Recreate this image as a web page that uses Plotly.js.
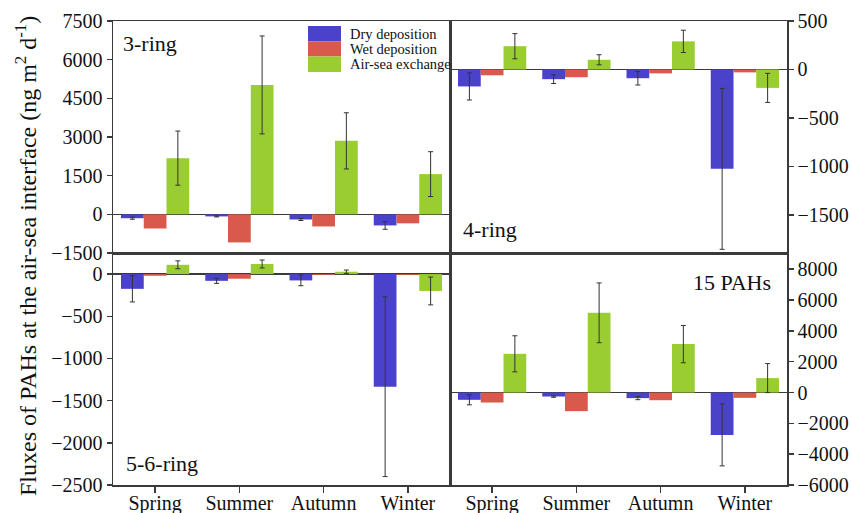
<!DOCTYPE html>
<html>
<head>
<meta charset="utf-8">
<script src="https://cdn.plot.ly/plotly-3.0.1.min.js"></script>
<style>html,body{margin:0;padding:0;background:#fff;}#chart{width:851px;height:513px;}</style>
</head>
<body>
<div id="chart"></div>
<script>
// ---- Data ----
const seasons = ['Spring', 'Summer', 'Autumn', 'Winter'];
const seriesNames = ['Dry deposition', 'Wet deposition', 'Air-sea exchange'];

// 3-ring
const ring3Dry = [-150, -80, -200, -430];
const ring3DryErr = [40, 20, 40, 150];
const ring3Wet = [-550, -1090, -470, -350];
const ring3Air = [2180, 5020, 2850, 1560];
const ring3AirErr = [1050, 1900, 1090, 870];

// 4-ring
const ring4Dry = [-175, -100, -90, -1025];
const ring4DryErr = [140, 45, 70, 830];
const ring4Wet = [-60, -80, -40, -30];
const ring4Air = [240, 100, 290, -190];
const ring4AirErr = [130, 52, 115, 150];

// 5-6-ring
const ring56Dry = [-175, -80, -75, -1335];
const ring56DryErr = [155, 30, 63, 1065];
const ring56Wet = [-20, -55, -10, -10];
const ring56Air = [110, 120, 28, -200];
const ring56AirErr = [47, 47, 20, 165];

// 15 PAHs
const pahDry = [-475, -260, -365, -2750];
const pahDryErr = [325, 50, 100, 2010];
const pahWet = [-650, -1210, -500, -345];
const pahAir = [2510, 5170, 3140, 935];
const pahAirErr = [1170, 1940, 1210, 940];

const panelLabels = ['3-ring', '4-ring', '5-6-ring', '15 PAHs'];
const yTitle = 'Fluxes of PAHs at the air-sea interface (ng m<sup>2</sup> d<sup>-1</sup>)';

// ---- Style ----
const colors = ['#4b42cc', '#d95a4c', '#9acd32'];
const FONT = 'Liberation Serif';
const L = 113, R = 787, T = 21, B = 485;
const px2x = p => (p - L) / (R - L);
const px2y = p => (B - p) / (B - T);

const panels = [
  {dry: ring3Dry, dryErr: ring3DryErr, wet: ring3Wet, air: ring3Air, airErr: ring3AirErr, xa: 'x', ya: 'y'},
  {dry: ring4Dry, dryErr: ring4DryErr, wet: ring4Wet, air: ring4Air, airErr: ring4AirErr, xa: 'x2', ya: 'y2'},
  {dry: ring56Dry, dryErr: ring56DryErr, wet: ring56Wet, air: ring56Air, airErr: ring56AirErr, xa: 'x3', ya: 'y3'},
  {dry: pahDry, dryErr: pahDryErr, wet: pahWet, air: pahAir, airErr: pahAirErr, xa: 'x4', ya: 'y4'}
];

const errStyle = (arr) => ({type: 'data', array: arr, visible: true, color: '#333', thickness: 1, width: 2.5});

const traces = [];
panels.forEach(p => {
  traces.push({type: 'bar', x: seasons, y: p.dry, name: seriesNames[0], marker: {color: colors[0]},
    error_y: errStyle(p.dryErr), xaxis: p.xa, yaxis: p.ya, showlegend: false});
  traces.push({type: 'bar', x: seasons, y: p.wet, name: seriesNames[1], marker: {color: colors[1]},
    xaxis: p.xa, yaxis: p.ya, showlegend: false});
  traces.push({type: 'bar', x: seasons, y: p.air, name: seriesNames[2], marker: {color: colors[2]},
    error_y: errStyle(p.airErr), xaxis: p.xa, yaxis: p.ya, showlegend: false});
});

const axLine = {showline: true, mirror: true, linecolor: '#3a3a3a', linewidth: 1.5, showgrid: false,
  zeroline: true, zerolinecolor: '#3a3a3a', zerolinewidth: 1.5};
const tickFont = () => ({family: FONT, size: 20, color: '#111'});

const xTop = Object.assign({}, axLine, {type: 'category', range: [-0.5, 3.5], showticklabels: false, ticks: '', zeroline: false});
const xBot = Object.assign({}, axLine, {type: 'category', range: [-0.5, 3.5], ticks: 'outside', ticklen: 6, tickwidth: 1.5, tickcolor: '#3a3a3a', tickfont: tickFont(), zeroline: false, ticklabelstandoff: -7});
const yBase = Object.assign({}, axLine, {ticks: 'outside', ticklen: 5, tickwidth: 1.5, tickcolor: '#3a3a3a', tickfont: tickFont()});

const layout = {
  width: 851, height: 513,
  margin: {l: L, r: 851 - R, t: T, b: 513 - B, pad: 0},
  paper_bgcolor: '#fff', plot_bgcolor: '#fff',
  barmode: 'group', bargap: 0.19, bargroupgap: 0,
  showlegend: false,
  font: {family: FONT, size: 20, color: '#111'},
  xaxis: Object.assign({}, xTop, {domain: [0, 0.5], anchor: 'y'}),
  xaxis2: Object.assign({}, xTop, {domain: [0.5, 1], anchor: 'y2'}),
  xaxis3: Object.assign({}, xBot, {domain: [0, 0.5], anchor: 'y3', tickfont: tickFont()}),
  xaxis4: Object.assign({}, xBot, {domain: [0.5, 1], anchor: 'y4', tickfont: tickFont()}),
  yaxis: Object.assign({}, yBase, {domain: [0.5, 1], anchor: 'x', range: [-1500, 7500], tickmode: 'linear', tick0: -1500, dtick: 1500, tickfont: tickFont()}),
  yaxis2: Object.assign({}, yBase, {domain: [0.5, 1], anchor: 'x2', side: 'right', range: [-1893, 500], tickmode: 'linear', tick0: 0, dtick: 500, tickfont: tickFont()}),
  yaxis3: Object.assign({}, yBase, {domain: [0, 0.5], anchor: 'x3', range: [-2500, 250], tickmode: 'linear', tick0: 0, dtick: 500, tickfont: tickFont()}),
  yaxis4: Object.assign({}, yBase, {domain: [0, 0.5], anchor: 'x4', side: 'right', range: [-6000, 9050], tickmode: 'linear', tick0: 0, dtick: 2000, tickfont: tickFont()}),
  shapes: [],
  annotations: []
};

// Legend (drawn in the top-left panel)
const legRows = [[26, 41.5], [41.5, 56.5], [56.5, 72]];
legRows.forEach((r, i) => {
  layout.shapes.push({type: 'rect', xref: 'paper', yref: 'paper', x0: px2x(308), x1: px2x(341),
    y0: px2y(r[1]), y1: px2y(r[0]), fillcolor: colors[i], line: {width: 0}});
  layout.annotations.push({xref: 'paper', yref: 'paper', x: px2x(348), y: px2y((r[0] + r[1]) / 2),
    xanchor: 'left', yanchor: 'middle', showarrow: false, text: seriesNames[i],
    font: {family: FONT, size: 14.5, color: '#111'}});
});

// Panel labels
const lab = {family: FONT, size: 22, color: '#111'};
layout.annotations.push({xref: 'paper', yref: 'paper', x: px2x(121), y: px2y(44), xanchor: 'left', yanchor: 'middle', showarrow: false, text: panelLabels[0], font: lab});
layout.annotations.push({xref: 'paper', yref: 'paper', x: px2x(461), y: px2y(229), xanchor: 'left', yanchor: 'middle', showarrow: false, text: panelLabels[1], font: lab});
layout.annotations.push({xref: 'paper', yref: 'paper', x: px2x(124), y: px2y(463), xanchor: 'left', yanchor: 'middle', showarrow: false, text: panelLabels[2], font: lab});
layout.annotations.push({xref: 'paper', yref: 'paper', x: px2x(773), y: px2y(282), xanchor: 'right', yanchor: 'middle', showarrow: false, text: panelLabels[3], font: lab});

// Y-axis title
layout.annotations.push({xref: 'paper', yref: 'paper', x: px2x(26), y: px2y(256), xanchor: 'center', yanchor: 'middle',
  showarrow: false, textangle: -90, text: yTitle, font: {family: FONT, size: 24, color: '#111'}});

Plotly.newPlot('chart', traces, layout, {displayModeBar: false, staticPlot: true});
</script>
</body>
</html>
